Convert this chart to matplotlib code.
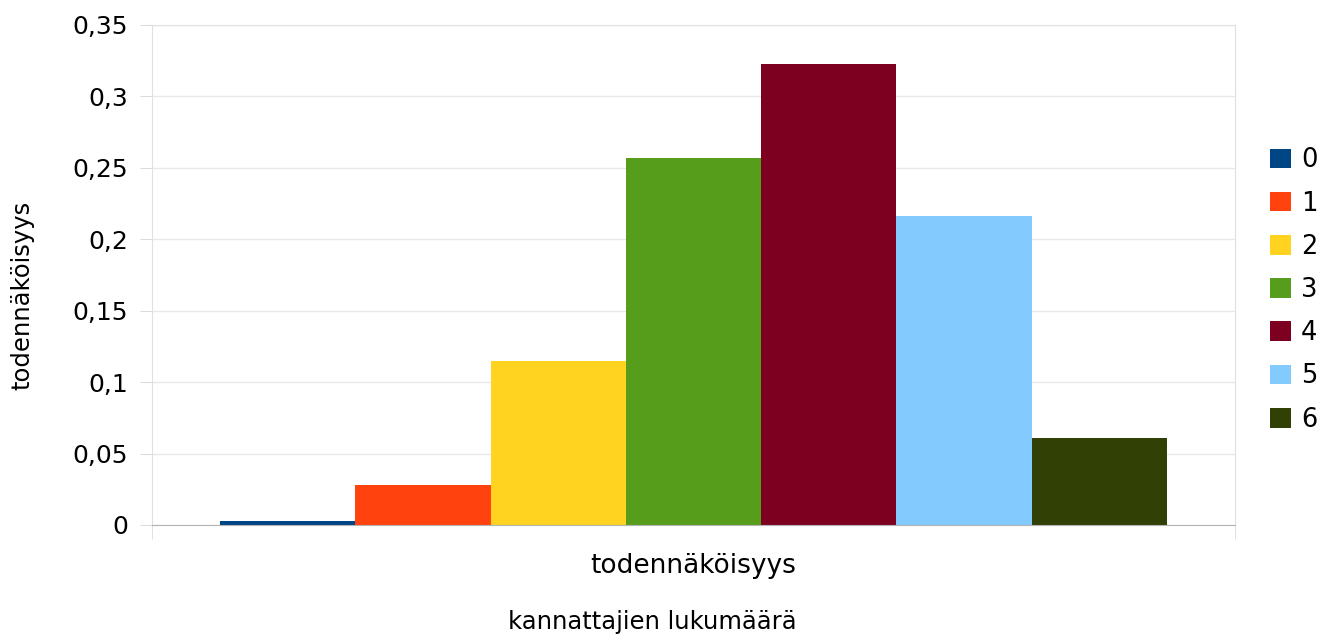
import matplotlib
matplotlib.use("Agg")
import matplotlib.pyplot as plt
from matplotlib.ticker import FuncFormatter, MultipleLocator

# kannattajien lukumäärä 0..6 ja todennäköisyydet
labels = ["0", "1", "2", "3", "4", "5", "6"]
values = [0.003, 0.028, 0.115, 0.257, 0.323, 0.216, 0.061]
colors = ["#004586", "#ff420e", "#ffd320", "#579d1c", "#7e0021", "#83caff", "#314004"]
category = "todennäköisyys"

W, H = 1330, 639
fig = plt.figure(figsize=(W / 100, H / 100), dpi=100)
ax = fig.add_axes([152 / W, 1 - 525 / H, (1235 - 152) / W, (525 - 25) / H])

bw = 0.1249
for i, (lab, v, c) in enumerate(zip(labels, values, colors)):
    ax.bar((i - 3) * bw, v, width=bw, color=c, linewidth=0, label=lab, zorder=3)

ax.set_xlim(-0.5, 0.5)
ax.set_ylim(0, 0.35)
ax.yaxis.set_major_locator(MultipleLocator(0.05))
ax.yaxis.set_major_formatter(FuncFormatter(lambda v, p: f"{round(v, 2):g}".replace(".", ",")))
ax.grid(axis="y", color="#e8e8e8", linewidth=1, zorder=0)
ax.tick_params(axis="y", length=8.6, color="#dcdcdc", pad=8.6, labelsize=18)

ax.set_xticks([0])
ax.set_xticklabels([category])
ax.set_xticks([-0.5, 0.5], minor=True)
ax.tick_params(axis="x", which="major", length=0, pad=20, labelsize=19)
ax.tick_params(axis="x", which="minor", length=10, color="#dcdcdc")

for s in ["left", "right", "top"]:
    ax.spines[s].set_color("#e0e0e0")
ax.spines["bottom"].set_color("#b3b3b3")
ax.spines["bottom"].set_zorder(4)

fig.text(22 / W, 1 - 295 / H, "todennäköisyys", rotation=90, ha="center", va="center", fontsize=17.5)
fig.text(652 / W, 1 - 622 / H, "kannattajien lukumäärä", ha="center", va="center", fontsize=17.5)

fig.legend(loc="center left", bbox_to_anchor=(1270 / W, 1 - 290 / H), frameon=False,
           fontsize=18.5, handlelength=0.8, handleheight=0.8, handletextpad=0.4,
           labelspacing=0.67, borderpad=0, borderaxespad=0)

fig.savefig("out.png", dpi=100)
